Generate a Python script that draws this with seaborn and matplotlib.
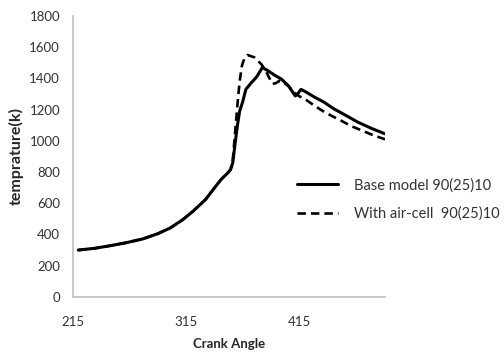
import matplotlib
matplotlib.use("Agg")
import matplotlib.pyplot as plt
import seaborn as sns
import pandas as pd

# Crank angle (deg) and in-cylinder temperature (K)
base_angle = [220, 235, 248, 262, 277, 290, 301, 312, 321, 332, 340, 346, 351, 354,
              356, 358, 360, 362, 364.5, 367.5, 372, 377, 382, 387, 393, 399, 405,
              411, 413, 416, 420, 428, 436, 445, 455, 466, 478, 490]
base_temp = [300, 312, 328, 347, 372, 405, 442, 495, 549, 624, 700, 755, 790, 815,
             860, 980, 1095, 1190, 1245, 1330, 1370, 1410, 1470, 1449, 1420, 1395, 1352,
             1288, 1300, 1330, 1315, 1280, 1249, 1205, 1165, 1120, 1080, 1045]

aircell_angle = [220, 235, 248, 262, 277, 290, 301, 312, 321, 332, 340, 346, 351, 354,
                 356, 358, 360, 362, 364, 366, 369, 375, 381, 385, 388, 391, 394, 397,
                 400, 405, 410, 414, 421, 428, 435, 443, 450, 460, 470, 480, 490]
aircell_temp = [300, 312, 328, 347, 372, 405, 442, 495, 549, 624, 700, 755, 790, 815,
                880, 1050, 1224, 1380, 1480, 1525, 1550, 1535, 1492, 1450, 1405, 1365, 1370, 1385,
                1375, 1352, 1310, 1288, 1260, 1225, 1192, 1160, 1135, 1095, 1065, 1035, 1010]

series_labels = ["Base model 90(25)10", "With air-cell  90(25)10"]
x_ticks = [215, 315, 415]
y_ticks = [0, 200, 400, 600, 800, 1000, 1200, 1400, 1600, 1800]

sns.set_style("white")
plt.rcParams["font.family"] = ["Lato", "DejaVu Sans"]

df_base = pd.DataFrame({"angle": base_angle, "temp": base_temp})
df_air = pd.DataFrame({"angle": aircell_angle, "temp": aircell_temp})

fig = plt.figure(figsize=(5.04, 3.56), dpi=100)
ax = fig.add_axes([0.144, 0.166, 0.620, 0.789])

sns.lineplot(data=df_base, x="angle", y="temp", ax=ax, color="black",
             linewidth=2.2, label=series_labels[0], sort=False)
sns.lineplot(data=df_air, x="angle", y="temp", ax=ax, color="black",
             linewidth=1.9, label=series_labels[1], sort=False)
ax.lines[1].set_dashes([3.2, 1.9])

ax.set_xlim(215, 490)
ax.set_ylim(0, 1800)
ax.set_xticks(x_ticks)
ax.set_yticks(y_ticks)
ax.tick_params(axis="y", length=0, labelsize=9.5, pad=9)
ax.tick_params(axis="x", length=0, labelsize=9.5, pad=14)
for lab in ax.get_xticklabels() + ax.get_yticklabels():
    lab.set_color("#333333")

for side in ["top", "right"]:
    ax.spines[side].set_visible(False)
for side in ["left", "bottom"]:
    ax.spines[side].set_color("#bfbfbf")
    ax.spines[side].set_linewidth(1.2)

ax.set_xlabel("Crank Angle", fontsize=9.5, fontweight="bold", labelpad=7)
ax.set_ylabel("temprature(k)", fontsize=11.5, fontweight="bold", labelpad=4)

leg = ax.legend(loc="center left", bbox_to_anchor=(0.578, 0.44),
                bbox_transform=fig.transFigure, frameon=False, fontsize=10.5,
                handlelength=2.8, handletextpad=1.1, labelspacing=0.95,
                borderaxespad=0)
for t in leg.get_texts():
    t.set_color("#333333")

fig.savefig("out.png", dpi=100)
